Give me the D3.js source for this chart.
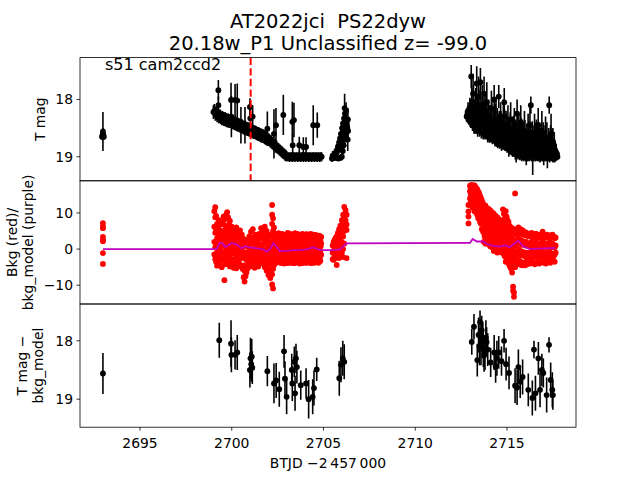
<!DOCTYPE html>
<html><head><meta charset="utf-8">
<script src="https://cdn.jsdelivr.net/npm/d3@7"></script>
<style>body{margin:0;background:#fff} svg text{font-family:"DejaVu Sans",sans-serif;fill:#000}</style>
</head><body>
<script>
// ---------------- DATA ----------------
const titleLines = ["AT2022jci  PS22dyw", "20.18w_P1 Unclassified z= -99.0"];
const sectorLabel = "s51 cam2ccd2";
const xLabel = "BTJD \u22122\u2009457\u2009000";
const yLabels = [["T mag"], ["Bkg (red)/", "bkg_model (purple)"], ["T mag \u2212", "bkg_model"]];
const xTicks = [2695, 2700, 2705, 2710, 2715];
const magTicks = [18, 19];
const bkgTicks = [10, 0, -10];
const diffTicks = [18, 19];
const markerTime = 2701.03;

// Panel 1: T mag light curve [time, mag, error]
const tmagSegA = [[2692.93,18.65,0.06],[2692.98,18.56,0.34],[2693.03,18.65,0.06],[2692.98,18.60,0.10],[2692.96,18.62,0.08],[2693.00,18.62,0.08]];
const tmagSegB = [
[2699.00,18.22,0.12],[2699.05,18.20,0.12],[2699.10,18.25,0.12],[2699.15,18.24,0.12],[2699.20,18.28,0.12],
[2699.25,18.27,0.12],[2699.30,18.30,0.12],[2699.35,18.29,0.12],[2699.40,18.31,0.12],[2699.45,18.33,0.12],
[2699.50,18.32,0.12],[2699.55,18.34,0.12],[2699.60,18.35,0.12],[2699.65,18.34,0.12],[2699.70,18.36,0.12],
[2699.75,18.37,0.12],[2699.80,18.36,0.12],[2699.85,18.38,0.12],[2699.90,18.38,0.12],[2699.95,18.37,0.12],
[2700.00,18.39,0.12],[2700.05,18.40,0.12],[2700.10,18.40,0.12],[2700.15,18.42,0.12],[2700.20,18.41,0.12],
[2700.25,18.43,0.12],[2700.30,18.44,0.12],[2700.35,18.44,0.12],[2700.40,18.45,0.12],[2700.45,18.46,0.12],
[2700.50,18.47,0.12],[2700.55,18.46,0.12],[2700.60,18.48,0.12],[2700.65,18.49,0.12],[2700.70,18.50,0.12],
[2700.75,18.49,0.12],[2700.80,18.51,0.12],[2700.85,18.52,0.12],[2700.90,18.52,0.12],[2700.95,18.53,0.12],
[2701.00,18.54,0.12],[2701.05,18.54,0.12],[2701.10,18.55,0.12],[2701.15,18.56,0.12],[2701.20,18.57,0.12],
[2701.25,18.57,0.12],[2701.30,18.58,0.12],[2701.35,18.59,0.12],[2701.40,18.60,0.12],[2701.45,18.60,0.12],
[2701.50,18.61,0.12],[2701.55,18.62,0.12],[2701.60,18.63,0.12],[2701.65,18.63,0.12],[2701.70,18.64,0.12],
[2701.75,18.65,0.12],[2701.80,18.66,0.12],[2701.85,18.67,0.12],[2701.90,18.68,0.12],[2701.95,18.69,0.12],
[2702.00,18.70,0.11],[2702.05,18.71,0.11],[2702.10,18.73,0.11],[2702.15,18.74,0.11],[2702.20,18.76,0.11],
[2702.25,18.77,0.11],[2702.30,18.79,0.11],[2702.35,18.80,0.11],[2702.40,18.82,0.11],[2702.45,18.83,0.11],
[2702.50,18.85,0.10],[2702.55,18.86,0.10],[2702.60,18.88,0.10],[2702.65,18.89,0.10],[2702.70,18.91,0.10],
[2702.75,18.92,0.10],[2702.80,18.94,0.10],[2702.85,18.95,0.10],[2702.90,18.97,0.10],[2702.95,18.98,0.10],
[2703.00,18.99,0.09],[2703.05,19.00,0.08],[2703.10,19.00,0.08],[2703.15,19.01,0.08],[2703.20,19.00,0.08],
[2703.25,19.00,0.08],[2703.30,19.01,0.08],[2703.35,19.00,0.08],[2703.40,19.00,0.08],[2703.45,19.01,0.08],
[2703.50,19.00,0.08],[2703.55,19.00,0.08],[2703.60,19.01,0.08],[2703.65,19.00,0.08],[2703.70,19.00,0.08],
[2703.75,19.01,0.08],[2703.80,19.00,0.08],[2703.85,19.00,0.08],[2703.90,19.01,0.08],[2703.95,19.00,0.08],
[2704.00,19.00,0.08],[2704.05,19.01,0.08],[2704.10,19.00,0.08],[2704.15,19.00,0.08],[2704.20,19.01,0.08],
[2704.25,19.00,0.08],[2704.30,19.00,0.08],[2704.35,19.01,0.08],[2704.40,19.00,0.08],[2704.45,19.00,0.08],
[2704.50,19.01,0.08],[2704.55,19.00,0.08],[2704.60,19.00,0.08],[2704.65,19.01,0.08],[2704.70,19.00,0.08],
[2704.75,19.00,0.08],[2704.80,19.01,0.08],[2704.85,19.00,0.08],[2704.90,19.00,0.08],
// outliers with large errors
[2699.27,17.84,0.18],[2699.27,18.10,0.15],[2699.96,18.01,0.30],[2699.98,18.30,0.36],[2700.18,18.01,0.28],
[2700.30,18.02,0.30],[2700.50,18.45,0.32],[2700.72,18.45,0.32],[2700.99,18.13,0.15],[2701.01,18.33,0.30],
[2701.14,18.30,0.20],[2701.94,18.51,0.30],[2702.30,18.60,0.43],[2702.41,18.45,0.30],[2702.81,18.27,0.35],
[2703.30,18.39,0.35],[2703.32,18.80,0.20],[2703.39,18.36,0.30],[2703.68,18.80,0.15],[2703.90,18.83,0.17],
[2704.05,18.83,0.17],[2704.44,18.45,0.35],[2704.66,18.45,0.22]
];
const tmagSegC = [
[2705.46,19.03,0.06],[2705.52,19.02,0.06],[2705.57,19.00,0.07],[2705.63,18.97,0.07],[2705.68,18.93,0.07],
[2705.74,18.88,0.08],[2705.79,18.82,0.08],[2705.85,18.75,0.08],[2705.90,18.68,0.09],[2705.95,18.60,0.09],
[2706.01,18.50,0.10],[2706.06,18.42,0.10],[2706.12,18.33,0.12],[2706.15,18.15,0.25],[2706.17,18.25,0.12],
[2706.23,18.20,0.15],[2706.28,18.45,0.12],[2706.34,18.55,0.12],[2705.70,19.02,0.05],[2705.80,19.03,0.05],
[2705.90,19.02,0.05],[2706.00,19.00,0.06],[2706.05,18.90,0.08],[2706.10,18.80,0.08],[2706.20,18.65,0.10],
[2706.25,18.55,0.12],[2706.30,18.50,0.12],
[2705.50,18.98,0.08],[2705.60,18.95,0.08],[2705.72,18.92,0.10],[2705.82,18.86,0.10],[2705.88,18.80,0.12],
[2705.96,18.75,0.12],[2706.03,18.68,0.15],[2706.08,18.60,0.18],[2706.14,18.55,0.20],[2706.20,18.45,0.22],
[2706.26,18.40,0.25],[2706.32,18.70,0.20],[2706.33,18.35,0.20]
];
const tmagSegD = [
[2712.80,18.30,0.08],[2712.85,18.22,0.10],[2712.90,18.35,0.06],[2712.95,18.18,0.12],[2713.00,18.40,0.08],
[2713.05,17.60,0.20],[2713.08,18.25,0.25],[2713.12,18.45,0.08],[2713.15,17.90,0.35],[2713.20,18.30,0.30],
[2713.25,18.50,0.10],[2713.30,18.10,0.30],[2713.35,17.72,0.30],[2713.40,18.55,0.10],[2713.45,17.95,0.35],
[2713.50,18.35,0.30],[2713.55,17.70,0.25],[2713.60,18.58,0.10],[2713.65,18.10,0.35],[2713.70,18.40,0.30],
[2713.75,17.90,0.30],[2713.80,18.62,0.08],[2713.85,18.20,0.30],[2713.90,18.05,0.35],[2713.95,18.65,0.10],
[2714.00,18.30,0.30],[2714.05,18.68,0.08],[2714.10,18.40,0.30],[2714.15,18.15,0.30],[2714.20,18.70,0.08],
[2714.25,18.45,0.30],[2714.30,18.00,0.25],[2714.35,18.72,0.10],[2714.40,18.35,0.35],[2714.45,18.75,0.08],
[2714.50,18.55,0.30],[2714.55,17.95,0.20],[2714.60,18.78,0.08],[2714.65,18.40,0.35],[2714.70,18.60,0.30],
[2714.75,18.80,0.08],[2714.80,18.30,0.30],[2714.85,18.05,0.25],[2714.90,18.82,0.08],[2714.95,18.55,0.35],
[2715.00,18.85,0.08],[2715.05,18.45,0.35],[2715.10,18.70,0.30],[2715.15,18.88,0.08],[2715.20,18.35,0.30],
[2715.25,18.90,0.08],[2715.30,18.65,0.35],[2715.35,18.92,0.08],[2715.40,18.50,0.35],[2715.45,18.95,0.10],
[2715.50,18.75,0.35],[2715.55,18.25,0.25],[2715.60,18.97,0.08],[2715.65,18.60,0.35],[2715.70,18.98,0.08],
[2715.75,18.40,0.30],[2715.80,19.00,0.08],[2715.85,18.70,0.35],[2715.90,19.00,0.08],[2715.95,18.55,0.35],
[2716.00,19.00,0.08],[2716.05,18.85,0.30],[2716.10,19.00,0.08],[2716.15,18.60,0.35],[2716.20,19.00,0.08],
[2716.25,18.45,0.30],[2716.30,18.10,0.15],[2716.35,19.00,0.08],[2716.40,18.90,0.42],[2716.45,19.00,0.08],
[2716.50,18.60,0.35],[2716.55,19.00,0.08],[2716.60,18.70,0.35],[2716.65,19.00,0.08],[2716.70,18.45,0.30],
[2716.75,19.00,0.08],[2716.80,18.80,0.30],[2716.85,19.00,0.08],[2716.90,18.55,0.35],[2716.95,19.00,0.08],
[2717.00,18.85,0.30],[2717.05,19.00,0.08],[2717.10,18.65,0.35],[2717.15,19.00,0.08],[2717.20,18.95,0.25],
[2717.25,19.00,0.08],[2717.30,18.10,0.15],[2717.35,19.00,0.08],[2717.40,18.60,0.35],[2717.45,19.00,0.08],
[2717.50,18.80,0.30],[2717.55,19.00,0.08],[2717.60,18.90,0.20],[2717.65,19.00,0.08],[2717.70,19.00,0.06],
[2717.75,19.00,0.06]
];
const tmagSegD2 = [
[2712.825,18.28,0.12],[2712.875,18.20,0.15],[2712.925,18.30,0.12],[2712.975,18.15,0.18],[2713.025,18.25,0.25],
[2713.075,18.10,0.30],[2713.125,18.30,0.25],[2713.175,18.05,0.30],[2713.225,18.35,0.22],[2713.275,18.15,0.30],
[2713.325,18.40,0.20],[2713.375,18.20,0.30],[2713.425,18.30,0.28],[2713.475,18.15,0.32],[2713.525,18.40,0.22],
[2713.575,18.25,0.30],[2713.625,18.35,0.28],[2713.675,18.20,0.32],[2713.725,18.45,0.22],[2713.775,18.30,0.30],
[2713.825,18.40,0.28],[2713.875,18.30,0.30],[2713.925,18.45,0.25],[2713.975,18.35,0.30],[2714.025,18.50,0.22],
[2714.075,18.40,0.30],[2714.125,18.45,0.28],[2714.175,18.35,0.32],[2714.225,18.55,0.22],[2714.275,18.45,0.30],
[2714.325,18.50,0.28],[2714.375,18.40,0.32],[2714.425,18.60,0.22],[2714.475,18.45,0.30],[2714.525,18.55,0.28],
[2714.575,18.50,0.30],[2714.625,18.60,0.25],[2714.675,18.50,0.30],[2714.725,18.62,0.25],[2714.775,18.55,0.30],
[2714.825,18.60,0.28],[2714.875,18.50,0.32],[2714.925,18.65,0.25],[2714.975,18.55,0.30],[2715.025,18.70,0.22],
[2715.075,18.60,0.30],[2715.125,18.65,0.28],[2715.175,18.55,0.32],[2715.225,18.72,0.25],[2715.275,18.62,0.30],
[2715.325,18.70,0.28],[2715.375,18.60,0.32],[2715.425,18.75,0.25],[2715.475,18.65,0.30],[2715.525,18.72,0.28],
[2715.575,18.62,0.32],[2715.625,18.78,0.25],[2715.675,18.68,0.30],[2715.725,18.75,0.28],[2715.775,18.65,0.32],
[2715.825,18.80,0.25],[2715.875,18.70,0.30],[2715.925,18.78,0.28],[2715.975,18.68,0.32],[2716.025,18.80,0.25],
[2716.075,18.72,0.30],[2716.125,18.80,0.28],[2716.175,18.70,0.32],[2716.225,18.82,0.25],[2716.275,18.72,0.30],
[2716.325,18.80,0.28],[2716.375,18.70,0.32],[2716.425,18.82,0.25],[2716.475,18.75,0.30],[2716.525,18.80,0.28],
[2716.575,18.72,0.32],[2716.625,18.82,0.25],[2716.675,18.75,0.30],[2716.725,18.80,0.28],[2716.775,18.72,0.32],
[2716.825,18.82,0.25],[2716.875,18.75,0.30],[2716.925,18.80,0.28],[2716.975,18.72,0.32],[2717.025,18.82,0.25],
[2717.075,18.75,0.30],[2717.125,18.80,0.28],[2717.175,18.72,0.32],[2717.225,18.85,0.22],[2717.275,18.78,0.28],
[2717.325,18.85,0.25],[2717.375,18.75,0.30],[2717.425,18.85,0.22],[2717.475,18.80,0.28],[2717.525,18.88,0.20],
[2717.575,18.82,0.25],[2717.625,18.90,0.18],[2717.675,18.92,0.15],[2717.725,18.95,0.10]
];

// Panel 2: background flux, grouped by time: [time, [values...]]
const bkgGroups = [
[2692.98,[7.2,6.3,5.8,3.4,2.6,2.2,-1.1,-4.1]],
[2699.05,[10.5,6.2,2.0,-1.5]],[2699.10,[11.6,8.8,4.5,0.5,-2.8]],[2699.15,[9.2,5.5,1.2,-3.5]],
[2699.20,[7.0,3.0,-0.8,-4.6]],[2699.25,[6.1,2.2,-2.0]],[2699.30,[8.0,4.0,0.0,-3.2]],
[2699.35,[5.2,1.5,-1.8,-4.0]],[2699.40,[6.8,2.8,-0.5]],[2699.45,[4.2,0.8,-2.5,-5.0]],
[2699.50,[7.5,3.5,-1.2]],[2699.55,[9.0,5.0,1.0,-3.0]],[2699.60,[8.2,2.5,-0.8,-8.6]],
[2699.65,[6.5,3.8,-1.5,-4.2]],[2699.70,[9.6,4.8,0.5,-2.6]],[2699.75,[10.2,5.8,2.0,-1.0]],
[2699.80,[8.8,3.2,-0.3,-3.8]],[2699.85,[6.8,4.1,1.2,-2.2]],[2699.90,[7.8,2.5,-1.6,-4.8]],
[2699.95,[5.0,1.0,-3.0]],[2700.00,[6.2,2.8,-0.5,-4.5]],[2700.05,[3.8,0.3,-2.8]],
[2700.10,[5.5,1.8,-1.2,-5.2]],[2700.15,[4.5,0.5,-3.5]],[2700.20,[2.8,-0.8,-4.0]],
[2700.25,[6.0,1.5,-2.2,-5.3]],[2700.30,[3.5,0.0,-3.0]],[2700.35,[4.8,2.0,-1.5,-4.5]],
[2700.40,[3.0,-0.5,-3.8]],[2700.45,[5.2,1.2,-2.5]],[2700.50,[2.5,-1.0,-4.8]],
[2700.55,[4.0,0.5,-2.0]],[2700.60,[1.8,-2.5,-5.5]],[2700.65,[2.8,-0.8,-4.5,-7.8]],
[2700.70,[1.5,-2.0,-6.0,-9.0]],[2700.75,[2.2,-1.5,-4.8,-7.5]],[2700.80,[0.8,-3.0,-6.5]],
[2700.85,[2.5,-1.0,-5.5]],[2700.90,[1.0,-2.5,-4.2]],[2700.95,[3.5,0.2,-3.0]],
[2701.00,[2.5,-1.2,-4.8]],[2701.05,[4.8,1.5,-2.0]],[2701.10,[3.0,-0.5,-3.5]],
[2701.15,[5.5,2.0,-1.5,-4.5]],[2701.20,[3.2,0.0,-3.0]],[2701.25,[1.8,-2.2,-5.2]],
[2701.30,[4.0,0.8,-2.8]],[2701.35,[2.5,-1.0,-4.0]],[2701.40,[3.5,0.5,-2.5]],
[2701.45,[1.5,-1.8,-4.8]],[2701.50,[4.2,1.0,-2.0]],[2701.55,[2.8,-0.5,-3.5]],
[2701.60,[5.8,3.2,0.2]],[2701.65,[4.5,1.2,-2.5]],[2701.70,[3.0,-0.8,-4.0]],
[2701.75,[4.8,1.5,-1.8]],[2701.80,[6.2,3.5,-0.5,-5.0]],[2701.85,[3.2,0.0,-3.5]],
[2701.90,[5.0,1.8,-2.8,-6.0]],[2701.95,[2.5,-1.5,-4.5]],[2702.00,[4.0,0.5,-3.0,-7.2]],
[2702.05,[2.0,-2.0,-5.5]],[2702.10,[3.5,-0.5,-4.0,-8.0]],[2702.15,[1.5,-3.0,-6.8]],
[2702.20,[12.2,9.5,7.0,4.0,0.5,-3.5,-7.0,-9.8]],[2702.25,[8.5,5.0,1.5,-2.0,-5.5,-10.9]],
[2702.30,[6.0,2.5,-1.0,-4.5]],[2702.35,[4.2,1.0,-2.5]],[2702.40,[3.5,0.0,-3.0]],
[2702.45,[4.0,1.5,-1.8]],[2702.50,[3.0,-0.5,-3.5]],[2702.55,[4.4,1.8,-1.0]],
[2702.60,[2.8,0.0,-2.8]],[2702.65,[3.8,1.0,-1.8,-3.8]],[2702.70,[2.5,-0.5,-3.0]],
[2702.75,[4.2,1.5,-1.2]],[2702.80,[3.0,0.2,-2.5]],[2702.85,[3.8,1.0,-2.0,-4.0]],
[2702.90,[2.2,-0.8,-3.2]],[2702.95,[4.0,1.8,-1.0]],[2703.00,[3.2,0.5,-2.2]],
[2703.05,[4.5,2.0,-0.8,-3.5]],[2703.10,[2.8,0.0,-2.5]],[2703.15,[3.6,1.2,-1.5]],
[2703.20,[4.2,2.2,-0.5,-3.0]],[2703.25,[3.0,0.5,-2.2]],[2703.30,[4.0,1.5,-1.0,-3.8]],
[2703.35,[2.5,0.0,-2.8]],[2703.40,[3.5,1.0,-1.5]],[2703.45,[4.4,2.0,-0.5,-3.2]],
[2703.50,[3.0,0.2,-2.0]],[2703.55,[3.8,1.5,-1.2,-3.5]],[2703.60,[2.6,-0.2,-2.6]],
[2703.65,[4.0,1.8,-0.8]],[2703.70,[3.2,0.8,-2.0,-4.0]],[2703.75,[2.5,-0.5,-3.0]],
[2703.80,[3.8,1.2,-1.5]],[2703.85,[4.2,2.0,-0.5,-3.5]],[2703.90,[3.0,0.5,-2.2]],
[2703.95,[3.6,1.5,-1.0,-3.0]],[2704.00,[2.8,0.0,-2.5]],[2704.05,[4.0,1.8,-0.8]],
[2704.10,[3.2,0.8,-1.8,-3.8]],[2704.15,[2.5,-0.2,-2.8]],[2704.20,[3.8,1.2,-1.2]],
[2704.25,[3.0,0.5,-2.0,-3.5]],[2704.30,[4.2,1.8,-0.5]],[2704.35,[3.5,1.0,-1.5,-3.0]],
[2704.40,[2.8,0.2,-2.5]],[2704.45,[4.0,1.5,-1.0]],[2704.50,[3.2,0.5,-2.0,-3.8]],
[2704.55,[3.8,1.2,-1.2]],[2704.60,[2.8,0.0,-2.5]],[2704.65,[3.5,1.0,-1.5,-3.2]],
[2704.70,[3.0,0.5,-2.0]],[2704.75,[3.6,1.2,-1.0,-3.5]],[2704.80,[2.5,-0.2,-2.5]],
[2704.85,[3.2,0.8,-1.5]],
[2702.325,[2.2,-1.5,-3.6]],[2702.375,[1.8,-1.8,4.2]],[2702.425,[2.6,-1.0,-3.8]],[2702.475,[1.5,-2.0,3.8]],
[2702.525,[2.2,-1.6,-3.6]],[2702.575,[1.2,-2.2,3.5]],[2702.625,[2.4,-1.2,-3.4]],[2702.675,[1.6,-2.0,4.0]],
[2702.725,[2.8,-1.4,-3.8]],[2702.775,[1.0,-2.2,3.6]],[2702.825,[2.0,-1.0,-3.4]],[2702.875,[1.4,-2.4,3.9]],
[2702.925,[2.6,-1.8,-3.7]],[2702.975,[0.8,-2.0,3.4]],[2703.025,[2.2,-1.2,-3.9]],[2703.075,[1.6,-1.6,4.1]],
[2703.125,[2.4,-0.8,-3.5]],[2703.175,[1.0,-2.4,3.6]],[2703.225,[2.6,-1.4,-3.8]],[2703.275,[1.8,-2.0,4.0]],
[2703.325,[2.0,-1.0,-3.3]],[2703.375,[1.2,-2.2,3.7]],[2703.425,[2.8,-1.6,-3.9]],[2703.475,[1.4,-1.8,3.5]],
[2703.525,[2.2,-1.2,-3.6]],[2703.575,[0.8,-2.4,4.2]],[2703.625,[2.4,-1.0,-3.4]],[2703.675,[1.6,-2.0,3.8]],
[2703.725,[2.0,-1.4,-3.7]],[2703.775,[1.2,-2.2,3.6]],[2703.825,[2.6,-0.8,-3.9]],[2703.875,[1.8,-1.6,4.0]],
[2703.925,[2.2,-1.2,-3.5]],[2703.975,[1.0,-2.4,3.4]],[2704.025,[2.4,-1.8,-3.8]],[2704.075,[1.6,-1.0,4.1]],
[2704.125,[2.0,-1.4,-3.6]],[2704.175,[1.4,-2.2,3.7]],[2704.225,[2.8,-1.2,-3.4]],[2704.275,[1.0,-2.0,3.8]],
[2704.325,[2.2,-1.6,-3.9]],[2704.375,[1.8,-0.8,4.0]],[2704.425,[2.4,-1.4,-3.5]],[2704.475,[1.2,-2.4,3.6]],
[2704.525,[2.0,-1.0,-3.7]],[2704.575,[1.6,-2.0,3.9]],[2704.625,[2.6,-1.2,-3.4]],[2704.675,[1.4,-1.8,3.5]],
[2704.725,[2.2,-1.4,-3.8]],[2704.775,[1.0,-2.2,3.7]],[2704.825,[2.4,-1.0,-3.3]],[2704.875,[1.6,-1.6,3.4]],
[2705.50,[1.0,-1.0,-2.8]],[2705.55,[2.0,-0.5,-3.0]],[2705.60,[2.5,0.5,-2.0]],
[2705.65,[3.0,0.0,-2.5]],[2705.72,[3.5,1.0,-1.5,-4.4]],[2705.78,[4.5,2.0,-1.0]],
[2705.85,[5.5,3.0,0.5,-2.5]],[2705.92,[6.5,4.0,1.5,-1.5]],[2706.00,[8.0,5.0,2.0,-1.0]],
[2706.07,[9.5,6.5,3.5,0.0,-2.2]],[2706.13,[11.7,8.5,5.0,1.5]],[2706.20,[10.8,8.0,5.5]],
[2706.26,[9.5,6.8,5.3,-2.5]],
[2712.90,[12.2,10.4,9.0,7.1]],
[2712.98,[17.5,16.0,14.0]],[2713.03,[17.7,16.8,15.2,13.0]],[2713.08,[17.6,16.5,14.5,12.5]],
[2713.13,[17.7,16.2,15.0,13.5,11.5]],[2713.18,[17.5,16.8,14.8,12.8]],[2713.23,[17.6,16.0,14.0,12.0,10.5]],
[2713.28,[17.2,15.5,13.5,11.0]],[2713.33,[16.8,15.0,13.0,10.0]],[2713.38,[16.5,14.5,12.0,9.5]],
[2713.43,[16.0,14.0,11.5,8.5]],[2713.48,[15.5,13.2,11.0,9.0]],[2713.53,[14.8,12.5,10.0,7.5]],
[2713.58,[14.2,12.0,9.5,7.0]],[2713.63,[13.5,11.2,8.5,5.5]],[2713.68,[12.8,10.5,8.0,5.0]],
[2713.73,[12.2,10.0,7.5,4.5,2.0]],[2713.78,[11.5,9.0,6.5,3.5]],[2713.83,[12.0,9.5,7.0,4.0,1.5]],
[2713.88,[11.0,8.5,6.0,3.0]],[2713.93,[10.5,8.0,5.5,2.5]],[2713.98,[11.2,9.0,6.5,4.0,1.5]],
[2714.03,[10.0,7.5,5.0,2.5]],[2714.08,[10.8,8.2,5.8,3.2,0.8]],[2714.13,[9.5,7.0,4.5,2.0]],
[2714.18,[10.2,7.8,5.2,2.8,0.5]],[2714.23,[9.0,6.5,4.0,1.5]],[2714.28,[9.8,7.2,4.8,2.2,-0.5]],
[2714.33,[8.5,6.0,3.5,1.0]],[2714.38,[9.2,6.8,4.2,1.8]],[2714.43,[8.0,5.5,3.0,0.5]],
[2714.48,[8.8,6.2,3.8,1.2,-1.0]],[2714.53,[7.5,5.0,2.5,0.2]],[2714.58,[8.2,5.8,3.2,0.8]],
[2714.63,[7.0,4.5,2.0,-0.5]],[2714.68,[7.8,5.2,2.8,0.2]],[2714.73,[6.8,4.2,1.5,-1.0]],
[2714.78,[11.0,7.5,5.0,2.5,0.0]],[2714.83,[9.8,6.5,3.8,1.0,-1.5]],[2714.88,[8.5,5.8,3.0,0.5,-2.0]],
[2714.93,[10.5,7.0,4.5,1.5,-1.0,-3.5]],[2714.98,[9.0,6.0,3.0,0.0,-2.5]],[2715.03,[8.0,5.2,2.0,-0.5,-3.0]],
[2715.08,[7.5,4.5,1.5,-1.2,-3.8]],[2715.13,[6.5,3.5,0.5,-2.2,-4.5]],[2715.18,[5.5,2.8,0.0,-3.0,-5.0]],
[2715.23,[6.0,3.0,0.2,-2.5,-5.5]],[2715.28,[5.0,2.0,-1.0,-4.0,-6.5]],[2715.33,[4.5,1.5,-1.5,-4.5,-10.4,-11.5]],
[2715.38,[5.5,2.5,-0.5,-3.5,-13.2,-12.0]],[2715.44,[15.4,4.0,1.0,-2.0,-5.0]],[2715.50,[5.0,2.0,-1.0,-3.5]],
[2715.56,[4.2,1.5,-1.5,-4.0]],[2715.62,[6.0,3.0,0.0,-3.0]],[2715.68,[4.8,2.0,-1.2,-4.2]],
[2715.74,[5.5,2.5,-0.5,-3.5]],[2715.80,[4.0,1.2,-1.8,-4.5]],[2715.86,[5.2,2.2,-0.8,-3.8]],
[2715.92,[4.5,1.5,-1.5,-4.0]],[2715.98,[3.8,1.0,-2.0,-4.5]],[2716.04,[4.6,2.0,-1.0,-3.5]],
[2716.10,[4.0,1.2,-1.8,-4.2]],[2716.16,[3.5,0.8,-2.2]],[2716.22,[4.2,1.5,-1.0,-3.8]],
[2716.28,[3.8,1.0,-1.8,-4.0]],[2716.34,[4.5,2.0,-0.8,-3.2]],[2716.40,[3.2,0.5,-2.2]],
[2716.46,[4.0,1.5,-1.2,-3.8]],[2716.52,[3.5,0.8,-2.0,-4.2]],[2716.58,[4.3,1.8,-1.0]],
[2716.64,[3.0,0.2,-2.5,-3.8]],[2716.70,[3.8,1.2,-1.5]],[2716.76,[3.2,0.5,-2.0,-4.0]],
[2716.82,[4.0,1.5,-1.0]],[2716.88,[3.5,0.8,-2.2,-3.5]],[2716.94,[4.8,2.2,-0.5]],
[2717.00,[3.0,0.5,-2.0,-3.8]],[2717.06,[3.8,1.2,-1.2]],[2717.12,[3.2,0.8,-2.5,-4.0]],
[2717.18,[4.0,1.5,-1.0]],[2717.24,[3.5,0.5,-2.0,-3.5]],[2717.30,[3.0,1.0,-1.5]],
[2717.36,[3.8,1.8,-1.0,-3.8]],[2717.42,[3.2,0.5,-2.2]],[2717.48,[4.0,1.5,-1.5,-3.2]],
[2717.54,[3.5,1.0,-2.0]],[2717.60,[3.0,0.5,-1.5,-3.5]],[2717.65,[3.2,1.0,-1.0]]
];

// Panel 2: background model [time, value]
const bkgModel = [
[2692.98,0.0],[2699.18,0.0],[2699.27,1.0],[2699.36,1.7],[2699.50,1.6],[2699.63,0.6],[2699.81,1.0],
[2699.99,1.7],[2700.26,1.3],[2700.54,0.2],[2700.72,0.8],[2701.00,0.5],[2701.36,0.2],[2701.72,-0.1],
[2701.90,-0.7],[2702.08,-0.1],[2702.26,1.6],[2702.44,0.7],[2702.63,-0.6],[2702.99,-0.5],[2703.35,-0.3],
[2703.72,-0.3],[2704.08,-0.1],[2704.44,0.5],[2704.72,-0.1],[2704.90,-0.3],[2705.53,-0.3],[2705.90,-0.1],
[2706.08,0.8],[2706.26,1.6],[2712.90,1.7],[2712.98,1.7],[2713.13,2.8],[2713.35,2.1],[2713.71,2.1],
[2713.89,1.4],[2714.25,0.9],[2714.62,0.7],[2714.89,1.1],[2715.16,0.5],[2715.44,1.7],[2715.62,2.3],
[2715.89,0.7],[2716.25,0.0],[2716.62,0.1],[2717.16,0.2],[2717.62,0.3]
];

// Panel 3: T mag - bkg_model [time, mag, error]
const diffPoints = [
[2692.98,18.56,0.35],[2699.32,17.99,0.30],[2699.96,18.05,0.40],[2699.98,18.24,0.30],[2700.18,18.24,0.25],
[2700.30,18.20,0.30],[2700.99,18.50,0.30],[2701.02,18.30,0.35],[2701.06,18.40,0.30],[2701.09,18.27,0.30],
[2701.12,18.46,0.28],[2701.94,18.52,0.26],[2702.30,18.73,0.34],[2702.42,18.68,0.30],[2702.59,18.83,0.30],
[2702.85,18.18,0.28],[2702.90,18.65,0.30],[2702.99,18.96,0.30],[2703.27,18.50,0.28],[2703.30,18.73,0.30],
[2703.41,18.36,0.26],[2703.45,18.90,0.30],[2703.50,18.30,0.25],[2703.55,18.45,0.28],[2703.76,18.76,0.25],
[2704.05,18.73,0.26],[2704.19,19.00,0.33],[2704.41,18.96,0.30],[2704.48,18.81,0.30],[2704.63,18.49,0.20],
[2705.86,18.64,0.30],[2705.95,18.41,0.30],[2706.05,18.30,0.30],[2706.13,18.36,0.30],
[2713.08,18.02,0.22],[2713.20,17.76,0.22],[2713.38,18.33,0.28],[2713.53,17.68,0.20],[2713.62,17.82,0.25],
[2713.66,18.00,0.30],[2713.71,18.15,0.30],[2713.75,18.25,0.28],[2713.89,18.02,0.25],[2714.11,18.37,0.25],
[2713.45,17.90,0.30],[2713.50,18.10,0.32],[2713.58,18.12,0.30],[2713.68,17.95,0.28],[2713.80,18.20,0.30],
[2713.85,17.95,0.30],[2713.95,18.15,0.28],
[2714.30,18.20,0.30],[2714.38,18.44,0.28],[2714.45,18.30,0.30],[2714.55,18.20,0.28],[2714.70,18.35,0.25],
[2714.84,18.00,0.20],[2714.95,18.40,0.28],[2715.11,18.55,0.28],[2715.44,18.77,0.30],[2715.55,18.80,0.30],
[2715.62,18.45,0.30],[2715.72,18.70,0.28],[2715.85,18.62,0.30],[2716.16,18.84,0.28],[2716.38,18.98,0.30],
[2716.47,18.15,0.15],[2716.55,18.90,0.30],[2716.71,18.30,0.28],[2716.80,18.84,0.30],[2716.90,18.50,0.28],
[2716.98,18.55,0.25],[2717.16,18.93,0.30],[2717.29,18.07,0.13],[2717.38,18.67,0.30],[2717.47,18.84,0.30],
[2717.50,18.93,0.25]
];

// ---------------- LAYOUT ----------------
const W = 640, H = 480;
const L = 80, R = 576;
const tops = [57.6, 180.8, 304.0];
const PH = 123.2;
const FONT = 13.9;

const svg = d3.select("body").append("svg").attr("width", W).attr("height", H);

const x = d3.scaleLinear().domain([2691.73, 2718.76]).range([L, R]);
const y1 = d3.scaleLinear().domain([17.27, 19.42]).range([tops[0], tops[0] + PH]);
const y2 = d3.scaleLinear().domain([18.9, -15.2]).range([tops[1], tops[1] + PH]);
const y3 = d3.scaleLinear().domain([17.37, 19.48]).range([tops[2], tops[2] + PH]);

const defs = svg.append("defs");
tops.forEach((t, i) => {
  defs.append("clipPath").attr("id", "clip" + i)
    .append("rect").attr("x", L).attr("y", t).attr("width", R - L).attr("height", PH);
});

function panel(i) { return svg.append("g").attr("clip-path", "url(#clip" + i + ")"); }

function errorbars(g, data, y) {
  g.selectAll(null).data(data).enter().append("line")
    .attr("x1", d => x(d[0])).attr("x2", d => x(d[0]))
    .attr("y1", d => y(d[1] - d[2])).attr("y2", d => y(d[1] + d[2]))
    .attr("stroke", "#000").attr("stroke-width", 1.6);
  g.selectAll(null).data(data).enter().append("circle")
    .attr("cx", d => x(d[0])).attr("cy", d => y(d[1])).attr("r", 2.9).attr("fill", "#000");
}

// Panel 1
const g1 = panel(0);
errorbars(g1, tmagSegA.concat(tmagSegB, tmagSegC, tmagSegD, tmagSegD2), y1);
g1.append("line").attr("x1", x(markerTime)).attr("x2", x(markerTime))
  .attr("y1", tops[0]).attr("y2", tops[0] + PH)
  .attr("stroke", "#ff0000").attr("stroke-width", 2).attr("stroke-dasharray", "7.4,3.2");

// Panel 2
const g2 = panel(1);
const bkgPoints = [];
bkgGroups.forEach(gr => gr[1].forEach(v => bkgPoints.push([gr[0], v])));
g2.selectAll(null).data(bkgPoints).enter().append("circle")
  .attr("cx", d => x(d[0])).attr("cy", d => y2(d[1])).attr("r", 2.9).attr("fill", "#ff0000");
g2.append("path").datum(bkgModel)
  .attr("d", d3.line().x(d => x(d[0])).y(d => y2(d[1])))
  .attr("fill", "none").attr("stroke", "#bf00bf").attr("stroke-width", 1.8);

// Panel 3
const g3 = panel(2);
errorbars(g3, diffPoints, y3);

// Spines
tops.forEach(t => {
  svg.append("rect").attr("x", L).attr("y", t).attr("width", R - L).attr("height", PH)
    .attr("fill", "none").attr("stroke", "#000").attr("stroke-width", 0.8);
});

// Y ticks
function yAxis(scale, ticks) {
  const g = svg.append("g");
  ticks.forEach(v => {
    const yy = scale(v);
    g.append("line").attr("x1", L - 3.5).attr("x2", L).attr("y1", yy).attr("y2", yy)
      .attr("stroke", "#000").attr("stroke-width", 0.8);
    g.append("text").attr("x", L - 7).attr("y", yy).attr("dy", "0.36em")
      .attr("text-anchor", "end").attr("font-size", FONT)
      .text(v < 0 ? "\u2212" + Math.abs(v) : String(v));
  });
}
yAxis(y1, magTicks);
yAxis(y2, bkgTicks);
yAxis(y3, diffTicks);

// X ticks (bottom panel)
const bottom = tops[2] + PH;
xTicks.forEach(v => {
  svg.append("line").attr("x1", x(v)).attr("x2", x(v)).attr("y1", bottom).attr("y2", bottom + 3.5)
    .attr("stroke", "#000").attr("stroke-width", 0.8);
  svg.append("text").attr("x", x(v)).attr("y", 448.3).attr("text-anchor", "middle")
    .attr("font-size", FONT).text(v);
});
svg.append("text").attr("x", (L + R) / 2).attr("y", 468.3).attr("text-anchor", "middle")
  .attr("font-size", FONT).text(xLabel);

// Y labels
const yLabelBase = [[45], [17, 33], [26.5, 43]];
yLabels.forEach((lines, i) => {
  const cy = tops[i] + PH / 2;
  lines.forEach((s, j) => {
    const bx = yLabelBase[i][j];
    svg.append("text").attr("transform", `translate(${bx},${cy}) rotate(-90)`)
      .attr("text-anchor", "middle").attr("font-size", FONT).text(s);
  });
});

// Sector label
svg.append("text").attr("x", 105).attr("y", 70).attr("font-size", 16).text(sectorLabel);

// Title
const titleY = [28.3, 49.8];
titleLines.forEach((s, i) => {
  svg.append("text").attr("x", (L + R) / 2).attr("y", titleY[i]).attr("text-anchor", "middle")
    .attr("font-size", 19.5).style("white-space", "pre").text(s);
});
</script>
</body></html>
